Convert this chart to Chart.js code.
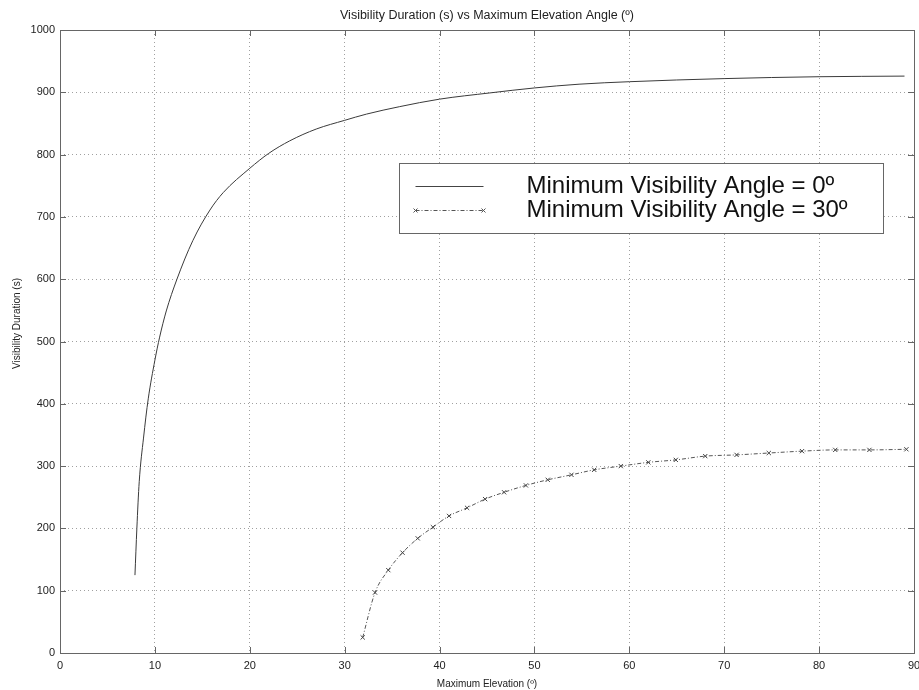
<!DOCTYPE html>
<html>
<head>
<meta charset="utf-8">
<script src="https://cdn.jsdelivr.net/npm/chart.js@4.4.1/dist/chart.umd.min.js"></script>
<style>
  html, body { margin: 0; padding: 0; background: #fff; }
  #wrap { width: 919px; height: 690px; }
</style>
</head>
<body>
<div id="wrap"><canvas id="mycanvas" width="919" height="690"></canvas></div>
<script>
var minAngle0Elev = [7.9, 8.1, 8.35, 8.8, 9.3, 10, 10.5, 11.2, 12.3, 14, 15.8, 17.2, 20, 22, 24.2, 27, 30, 32.3, 35.8, 40, 45.3, 50, 54.7, 60, 70, 80, 89];
var minAngle0Dur = [125, 200, 275, 345, 408, 470, 507, 549, 599, 662, 711, 739, 778, 802, 822, 841, 855, 865, 877, 889, 899, 907, 913, 917, 922, 925, 926];

var minAngle30Elev = [31.9, 33.2, 34.6, 36.1, 37.7, 39.3, 41.0, 42.9, 44.8, 46.8, 49.1, 51.4, 53.9, 56.3, 59.1, 62.0, 64.9, 68.0, 71.3, 74.7, 78.2, 81.7, 85.3, 89.2];
var minAngle30Dur = [25, 97, 133, 161, 184, 202, 220, 233, 247, 258, 269, 278, 286, 294, 300, 306, 310, 316, 318, 321, 324, 326, 326, 327];

var seriesLabels = ['Minimum Visibility Angle = 0\u00ba', 'Minimum Visibility Angle = 30\u00ba'];
var xTicks = [0, 10, 20, 30, 40, 50, 60, 70, 80, 90];
var yTicks = [0, 100, 200, 300, 400, 500, 600, 700, 800, 900, 1000];

function toPoints(xs, ys) {
  var pts = [];
  for (var i = 0; i < xs.length; i++) pts.push({x: xs[i], y: ys[i]});
  return pts;
}

Chart.defaults.font.family = '"Liberation Sans", Arial, sans-serif';
Chart.defaults.color = '#222';

// box round the plot and the short inward ticks, matlab style
var boxPlugin = {
  id: 'box',
  afterDraw: function(chart) {
    var c = chart.ctx, a = chart.chartArea;
    var xs = chart.scales.x, ys = chart.scales.y;
    c.save();
    c.strokeStyle = '#666';
    c.lineWidth = 1;
    c.beginPath();
    xTicks.forEach(function(v) {
      var px = Math.round(xs.getPixelForValue(v)) + 0.5;
      c.moveTo(px, a.bottom); c.lineTo(px, a.bottom - 6);
      c.moveTo(px, a.top); c.lineTo(px, a.top + 6);
    });
    yTicks.forEach(function(v) {
      var py = Math.round(ys.getPixelForValue(v)) + 0.5;
      c.moveTo(a.left, py); c.lineTo(a.left + 6, py);
      c.moveTo(a.right, py); c.lineTo(a.right - 6, py);
    });
    c.stroke();
    c.strokeRect(Math.round(a.left) + 0.5, Math.round(a.top) + 0.5, Math.round(a.right - a.left), Math.round(a.bottom - a.top));
    c.restore();
  }
};

// legend box inside the plot
var legendPlugin = {
  id: 'boxLegend',
  afterDraw: function(chart) {
    var c = chart.ctx, a = chart.chartArea;
    var w = a.right - a.left, h = a.bottom - a.top;
    var bx = Math.round(a.left + w * 0.397) + 0.5;
    var by = Math.round(a.top + h * 0.2135) + 0.5;
    var bw = Math.round(w * 0.567), bh = Math.round(h * 0.112);
    c.save();
    c.fillStyle = '#fff';
    c.fillRect(bx, by, bw, bh);
    c.strokeStyle = '#666';
    c.lineWidth = 1;
    c.strokeRect(bx, by, bw, bh);

    var y1 = by + 23, y2 = by + 47;
    var lx0 = bx + 16, lx1 = bx + 84;
    // solid sample
    c.strokeStyle = '#444';
    c.beginPath(); c.moveTo(lx0, y1); c.lineTo(lx1, y1); c.stroke();
    // dash-dot sample with x markers
    c.strokeStyle = '#555';
    c.setLineDash([4, 2, 1, 2]);
    c.beginPath(); c.moveTo(lx0, y2); c.lineTo(lx1, y2); c.stroke();
    c.setLineDash([]);
    [lx0, lx1].forEach(function(px) {
      c.beginPath();
      c.moveTo(px - 2, y2 - 2); c.lineTo(px + 2, y2 + 2);
      c.moveTo(px - 2, y2 + 2); c.lineTo(px + 2, y2 - 2);
      c.stroke();
    });

    c.fillStyle = '#111';
    c.font = '24px "Liberation Sans", Arial, sans-serif';
    c.textBaseline = 'middle';
    c.textAlign = 'left';
    c.fillText(seriesLabels[0], bx + 127, y1);
    c.fillText(seriesLabels[1], bx + 127, y2);
    c.restore();
  }
};

var gridStyle = {
  color: '#a0a0a0',
  lineWidth: 1,
  drawTicks: false
};

var ctx = document.getElementById('mycanvas');

var lineGraph = new Chart(ctx, {
  type: 'line',
  data: {
    datasets: [
      {
        label: seriesLabels[0],
        data: toPoints(minAngle0Elev, minAngle0Dur),
        borderColor: '#3a3a3a',
        borderWidth: 1,
        pointRadius: 0,
        cubicInterpolationMode: 'monotone',
        fill: false
      },
      {
        label: seriesLabels[1],
        data: toPoints(minAngle30Elev, minAngle30Dur),
        borderColor: '#555',
        borderWidth: 1,
        borderDash: [4, 2, 1, 2],
        pointStyle: 'crossRot',
        pointRadius: 3,
        pointBorderColor: '#444',
        pointBorderWidth: 1,
        cubicInterpolationMode: 'monotone',
        fill: false
      }
    ]
  },
  options: {
    responsive: false,
    animation: false,
    layout: { padding: { left: 0, right: 0, top: 0, bottom: 0 } },
    plugins: {
      legend: { display: false },
      tooltip: { enabled: false },
      title: {
        display: true,
        fullSize: false,
        text: 'Visibility Duration (s) vs Maximum Elevation Angle (\u00ba)',
        font: { size: 12.5, weight: 'normal' },
        color: '#222',
        padding: { top: 8, bottom: 7 }
      }
    },
    scales: {
      x: {
        type: 'linear',
        min: 0,
        max: 90,
        afterFit: function(s) { s.height = 37; s.paddingRight = 5; s.paddingLeft = 0; },
        afterBuildTicks: function(s) { s.ticks = xTicks.map(function(v) { return {value: v}; }); },
        ticks: { font: { size: 11 }, color: '#222', padding: 6, maxRotation: 0 },
        grid: gridStyle,
        border: { display: false, dash: [1, 3] },
        title: {
          display: true,
          text: 'Maximum Elevation (\u00ba)',
          font: { size: 10 },
          color: '#222',
          padding: { top: 0, bottom: 0 }
        }
      },
      y: {
        type: 'linear',
        min: 0,
        max: 1000,
        afterFit: function(s) { s.width = 60; },
        afterBuildTicks: function(s) { s.ticks = yTicks.map(function(v) { return {value: v}; }); },
        ticks: {
          font: { size: 11 },
          color: '#222',
          padding: 5,
          callback: function(v) { return String(v); }
        },
        grid: gridStyle,
        border: { display: false, dash: [1, 3] },
        title: {
          display: true,
          text: '             Visibility Duration (s)',
          font: { size: 10 },
          color: '#222',
          padding: { top: 11, bottom: 0 }
        }
      }
    }
  },
  plugins: [boxPlugin, legendPlugin]
});
</script>
</body>
</html>
